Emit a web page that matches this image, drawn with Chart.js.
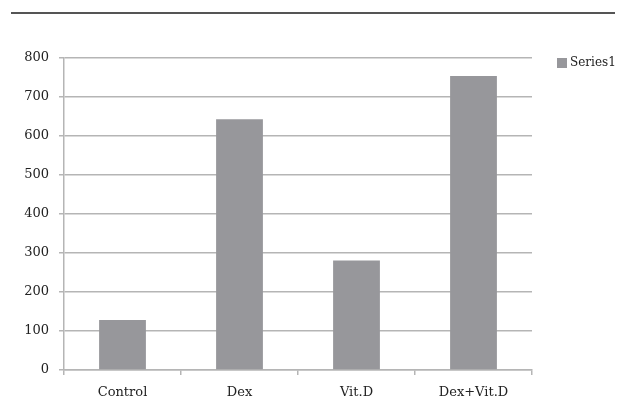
<!DOCTYPE html>
<html>
<head>
<meta charset="utf-8">
<script src="https://cdn.jsdelivr.net/npm/chart.js@4.4.1/dist/chart.umd.min.js"></script>
<style>
  html, body { margin: 0; padding: 0; background: #fff; }
  #wrap { position: relative; width: 627px; height: 402px; }
  #topRule { position: absolute; left: 11px; top: 12px; width: 604px; height: 2px; background: #555; }
</style>
</head>
<body>
<div id="wrap">
  <div id="topRule"></div>
  <canvas id="chart" width="627" height="402"></canvas>
</div>
<script>
// data
const categories = ["Control", "Dex", "Vit.D", "Dex+Vit.D"];
const series1 = [128, 643, 281, 754];
const yTicks = [0, 100, 200, 300, 400, 500, 600, 700, 800];

const barColor = "#97979b";
const gridColor = "#b5b5b5";
const fontFamily = "'DejaVu Serif', 'Liberation Serif', serif";

/* legend drawn on the right, like the original */
const sideLegend = {
  id: "sideLegend",
  afterDraw(chart) {
    const ctx = chart.ctx;
    const ds = chart.data.datasets[0];
    ctx.save();
    ctx.fillStyle = ds.backgroundColor;
    ctx.fillRect(557, 58, 10, 10);
    ctx.fillStyle = "#222";
    ctx.font = "12px " + fontFamily;
    ctx.textBaseline = "middle";
    ctx.fillText(ds.label, 570, 63);
    ctx.restore();
  }
};

new Chart(document.getElementById("chart"), {
  type: "bar",
  data: {
    labels: categories,
    datasets: [{
      label: "Series1",
      data: series1,
      backgroundColor: barColor,
      categoryPercentage: 1,
      barPercentage: 0.4
    }]
  },
  options: {
    responsive: false,
    animation: false,
    layout: { padding: { top: 58, right: 95, left: 0, bottom: 0 } },
    plugins: { legend: { display: false }, tooltip: { enabled: false } },
    scales: {
      x: {
        afterFit(scale) { scale.height = 32; },
        grid: { drawOnChartArea: false, drawTicks: true, tickLength: 5, color: gridColor, lineWidth: 1.5, offset: true },
        border: { color: gridColor, width: 1.5 },
        ticks: { color: "#222", padding: 10, font: { family: fontFamily, size: 13 } }
      },
      y: {
        min: 0,
        max: 800,
        afterFit(scale) { scale.width = 64; },
        afterBuildTicks(scale) { scale.ticks = yTicks.map(v => ({ value: v })); },
        grid: { color: gridColor, lineWidth: 1.5, tickLength: 5 },
        border: { color: gridColor, width: 1.5 },
        ticks: { color: "#222", padding: 10, font: { family: fontFamily, size: 13 } }
      }
    }
  },
  plugins: [sideLegend]
});
</script>
</body>
</html>
